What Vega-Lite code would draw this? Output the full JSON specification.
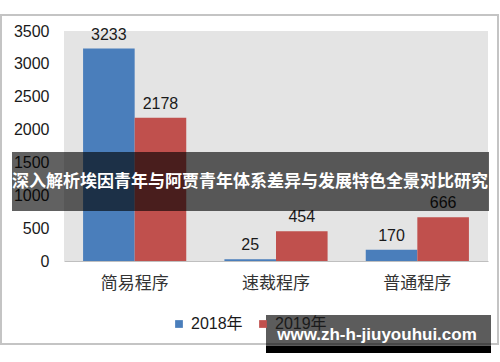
{
  "$schema": "https://vega.github.io/schema/vega-lite/v6.json",
  "width": 424,
  "height": 230,
  "autosize": {"type": "none"},
  "padding": {"left": 64, "top": 31, "right": 12, "bottom": 101},
  "background": "white",
  "config": {
    "view": {"fill": "#e4e4e4", "stroke": null},
    "font": "Liberation Sans, Noto Sans CJK SC"
  },
  "resolve": {"axis": {"y": "independent"}},
  "layer": [
    {
      "data": {"values": [
        {"category": "简易程序", "year": "2018年", "value": 3233},
        {"category": "简易程序", "year": "2019年", "value": 2178},
        {"category": "速裁程序", "year": "2018年", "value": 25},
        {"category": "速裁程序", "year": "2019年", "value": 454},
        {"category": "普通程序", "year": "2018年", "value": 170},
        {"category": "普通程序", "year": "2019年", "value": 666}
      ]},
      "encoding": {
        "x": {
          "field": "category", "type": "nominal", "sort": null,
          "scale": {"paddingInner": 0.27, "paddingOuter": 0.135},
          "axis": {
            "title": null, "labelAngle": 0, "ticks": false, "domainColor": "#bfbfbf",
            "labelFont": "Noto Sans CJK SC", "labelFontSize": 17, "labelColor": "#333333",
            "labelPadding": 14, "grid": false
          }
        },
        "xOffset": {"field": "year", "type": "nominal", "scale": {"paddingInner": 0, "paddingOuter": 0}},
        "y": {
          "field": "value", "type": "quantitative",
          "scale": {"domain": [0, 3500], "nice": false},
          "axis": {
            "title": null, "values": [0, 500, 1000, 1500, 2000, 2500, 3000, 3500],
            "format": "d", "labelOverlap": false,
            "grid": false, "ticks": false, "domain": false,
            "labelFontSize": 16, "labelColor": "#1a1a1a", "labelPadding": 15
          }
        }
      },
      "layer": [
        {
          "mark": {"type": "bar"},
          "encoding": {
            "color": {
              "field": "year", "type": "nominal",
              "scale": {"domain": ["2018年", "2019年"], "range": ["#4a7ebb", "#c0504d"]},
              "legend": {
                "title": null, "orient": "none", "direction": "horizontal",
                "legendX": 107, "legendY": 285, "symbolType": "square", "symbolSize": 60,
                "labelFontSize": 16, "labelColor": "#1a1a1a", "columnPadding": 12, "zindex": 0
              }
            }
          }
        },
        {
          "mark": {"type": "text", "baseline": "bottom", "dy": -6, "fontSize": 16, "color": "#1a1a1a"},
          "encoding": {"text": {"field": "value", "type": "quantitative", "format": "d"}}
        }
      ]
    },
    {
      "data": {"values": [{"frame": "outer"}]},
      "mark": {"type": "rect", "fill": null, "stroke": "#c4c4c4", "strokeWidth": 2, "clip": false},
      "encoding": {
        "x": {"value": -63},
        "x2": {"value": 434},
        "y": {"datum": 3744, "type": "quantitative", "axis": null, "scale": {"domain": [0, 3500], "nice": false}},
        "y2": {"datum": -1263}
      }
    },
    {
      "data": {"values": [{"caption": "深入解析埃因青年与阿贾青年体系差异与发展特色全景对比研究"}]},
      "layer": [
        {
          "mark": {"type": "rect", "color": "black", "opacity": 0.62, "clip": false},
          "encoding": {
            "x": {"value": -52},
            "x2": {"value": 425},
            "y": {"datum": 1659, "type": "quantitative", "axis": null, "scale": {"domain": [0, 3500], "nice": false}},
            "y2": {"datum": 761}
          }
        },
        {
          "mark": {"type": "text", "color": "white", "font": "Noto Sans CJK SC", "fontWeight": "bold", "fontSize": 17, "align": "center", "baseline": "middle"},
          "encoding": {
            "x": {"value": 186},
            "y": {"datum": 1202, "type": "quantitative", "axis": null, "scale": {"domain": [0, 3500], "nice": false}},
            "text": {"field": "caption"}
          }
        }
      ]
    },
    {
      "data": {"values": [{"site": "www.zh-h-jiuyouhui.com"}]},
      "layer": [
        {
          "mark": {"type": "rect", "color": "black", "opacity": 0.64, "clip": false},
          "encoding": {
            "x": {"value": 202},
            "x2": {"value": 427},
            "y": {"datum": -822, "type": "quantitative", "axis": null, "scale": {"domain": [0, 3500], "nice": false}},
            "y2": {"datum": -1294}
          }
        },
        {
          "mark": {"type": "rect", "color": "black", "opacity": 1, "clip": false},
          "encoding": {
            "x": {"value": 202},
            "x2": {"value": 427},
            "y": {"datum": -1294, "type": "quantitative", "axis": null, "scale": {"domain": [0, 3500], "nice": false}},
            "y2": {"datum": -1400}
          }
        },
        {
          "mark": {"type": "text", "color": "white", "font": "Liberation Sans", "fontWeight": "bold", "fontSize": 17, "align": "center", "baseline": "middle"},
          "encoding": {
            "x": {"value": 313},
            "y": {"datum": -1126, "type": "quantitative", "axis": null, "scale": {"domain": [0, 3500], "nice": false}},
            "text": {"field": "site"}
          }
        }
      ]
    }
  ]
}
